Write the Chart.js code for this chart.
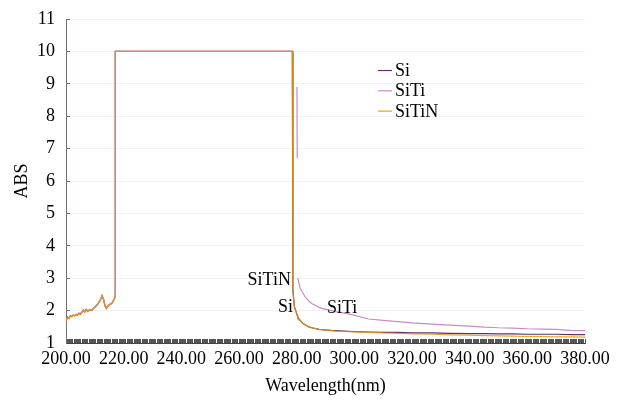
<!DOCTYPE html>
<html><head><meta charset="utf-8">
<script src="https://cdn.jsdelivr.net/npm/chart.js@4.4.0/dist/chart.umd.min.js"></script>
<style>html,body{margin:0;padding:0;background:#fff;}#wrap{width:624px;height:401px;position:relative;}</style>
</head><body><div id="wrap"><canvas id="c"></canvas></div>
<script>
// ---- data ----
const wavelengths = [
  200,200.5,201,201.5,202,202.5,203,203.5,204,204.5,205,205.5,206,206.5,207,207.5,208,208.5,209,209.5,
  210,210.5,211,211.5,212,212.5,213,213.5,214,214.5,215,215.5,216,216.5,217,
  217.1,278.5,278.7,279.2,280.1,280.2,280.3,280.4,281.2,282.1,282.9,284.4,285.2,287.8,288.7,292.5,293.3,
  298,305,310,315,320,327,333,340,345,350,355,360,365,370,375,380
];
const siValues = [
  1.68,1.80,1.76,1.84,1.82,1.86,1.84,1.88,1.86,1.92,1.89,1.95,2.02,1.96,2.04,1.98,2.01,2.03,2.01,2.07,
  2.10,2.15,2.20,2.27,2.34,2.46,2.36,2.15,2.07,2.13,2.18,2.20,2.24,2.32,2.42,
  10,10,2.6,2.12,1.88,1.86,1.84,1.81,1.70,1.61,1.56,1.49,1.47,1.42,1.41,1.38,1.38,
  1.36,1.34,1.33,1.33,1.31,1.31,1.30,1.29,1.29,1.28,1.28,1.27,1.27,1.27,1.26,1.26
];
const sitiValues = [
  1.70,1.78,1.78,1.82,1.84,1.85,1.86,1.87,1.88,1.90,1.91,1.94,2.00,1.98,2.02,2.00,2.02,2.02,2.03,2.06,
  2.11,2.14,2.21,2.26,2.36,2.44,2.38,2.18,2.09,2.12,2.17,2.21,2.25,2.33,2.40,
  10,10,null,null,8.9,6.7,null,3.0,2.69,2.55,2.43,2.28,2.22,2.10,2.07,1.99,1.97,
  1.90,1.74,1.70,1.66,1.62,1.58,1.55,1.52,1.49,1.47,1.46,1.44,1.43,1.42,1.39,1.38
];
const sitinValues = [
  1.66,1.79,1.75,1.83,1.81,1.87,1.83,1.89,1.85,1.91,1.88,1.96,2.03,1.95,2.03,1.97,2.00,2.04,2.00,2.08,
  2.09,2.16,2.19,2.28,2.33,2.47,2.34,2.14,2.06,2.14,2.19,2.19,2.23,2.31,2.43,
  10,10,2.6,2.12,1.88,1.86,1.84,1.81,1.70,1.61,1.56,1.49,1.47,1.42,1.41,1.38,1.37,
  1.35,1.33,1.31,1.30,1.28,1.27,1.25,1.24,1.23,1.22,1.21,1.20,1.20,1.19,1.19,1.18
];
const seriesNames = ['Si', 'SiTi', 'SiTiN'];
const xAxisTitle = 'Wavelength(nm)';
const yAxisTitle = 'ABS';
const curveLabels = [
  {text: 'SiTiN', x: 278.0, y: 2.79, align: 'right'},
  {text: 'Si', x: 278.7, y: 1.96, align: 'right'},
  {text: 'SiTi', x: 290.5, y: 1.93, align: 'left'}
];

// ---- styles ----
const FONT = '"Liberation Serif", "Times New Roman", serif';
Chart.defaults.font.family = FONT;
Chart.defaults.font.size = 18;
Chart.defaults.color = '#000';
const colors = ['#5f2f73', '#c98bc4', 'rgba(227,150,10,0.85)'];
const legendColors = ['#5f2f73', '#c98bc4', '#e3a60a'];

function toPoints(vals) { return wavelengths.map((x, i) => ({x: x, y: vals[i]})); }

const legendPlugin = {
  id: 'insideLegend',
  afterDraw(chart) {
    const ctx = chart.ctx;
    const xs = chart.scales.x, ys = chart.scales.y;
    const x0 = xs.getPixelForValue(308.2);
    const y0 = ys.getPixelForValue(9.41);
    ctx.save();
    ctx.font = '18px ' + FONT;
    ctx.textBaseline = 'alphabetic';
    ctx.textAlign = 'left';
    chart.data.datasets.forEach((ds, i) => {
      const y = y0 + i * 20.3;
      ctx.strokeStyle = legendColors[i];
      ctx.lineWidth = 1.2;
      ctx.beginPath(); ctx.moveTo(x0, y); ctx.lineTo(x0 + 14, y); ctx.stroke();
      ctx.fillStyle = '#000';
      ctx.fillText(ds.label, x0 + 17, y + 5.5);
    });
    ctx.restore();
  }
};
const curveLabelPlugin = {
  id: 'curveLabels',
  afterDraw(chart) {
    const ctx = chart.ctx;
    const xs = chart.scales.x, ys = chart.scales.y;
    ctx.save();
    ctx.font = '18px ' + FONT;
    ctx.fillStyle = '#000';
    ctx.textBaseline = 'alphabetic';
    curveLabels.forEach(l => {
      ctx.textAlign = l.align;
      ctx.fillText(l.text, xs.getPixelForValue(l.x), ys.getPixelForValue(l.y));
    });
    ctx.restore();
  }
};

const valueSets = [siValues, sitiValues, sitinValues];
new Chart(document.getElementById('c'), {
  type: 'line',
  data: {
    datasets: seriesNames.map((name, i) => ({
      label: name,
      data: toPoints(valueSets[i]),
      borderColor: colors[i],
      backgroundColor: colors[i],
      borderWidth: 1.2,
      pointRadius: 0,
      tension: 0,
      spanGaps: false,
      order: 2 - i
    }))
  },
  options: {
    responsive: true,
    maintainAspectRatio: false,
    animation: false,
    layout: {padding: {top: 19, right: 39, left: 0, bottom: 0}},
    plugins: {legend: {display: false}, tooltip: {enabled: false}},
    scales: {
      x: {
        type: 'linear', min: 200, max: 380,
        afterFit(s) { s.height = 58; },
        border: {display: true, color: '#444', width: 1},
        grid: {drawOnChartArea: false, drawTicks: true, tickLength: -4, tickColor: '#555', lineWidth: 1},
        ticks: {
          stepSize: 0.4, autoSkip: false, maxRotation: 0, padding: 9,
          callback: v => (Math.abs(v / 20 - Math.round(v / 20)) < 1e-6) ? v.toFixed(2) : ''
        },
        title: {display: true, text: xAxisTitle, padding: {top: 0, bottom: 4}}
      },
      y: {
        min: 1, max: 11,
        afterFit(s) { s.width = 66; s.paddingTop = 0; s.paddingBottom = 0; },
        border: {display: true, color: '#7a6e6e', width: 1},
        grid: {color: 'rgba(0,0,0,0.05)', drawTicks: true, tickLength: -4, tickColor: '#7a6e6e'},
        ticks: {stepSize: 1, padding: 15},
        title: {display: true, text: yAxisTitle, padding: {top: 11, bottom: 0}}
      }
    }
  },
  plugins: [legendPlugin, curveLabelPlugin]
});
</script></body></html>
